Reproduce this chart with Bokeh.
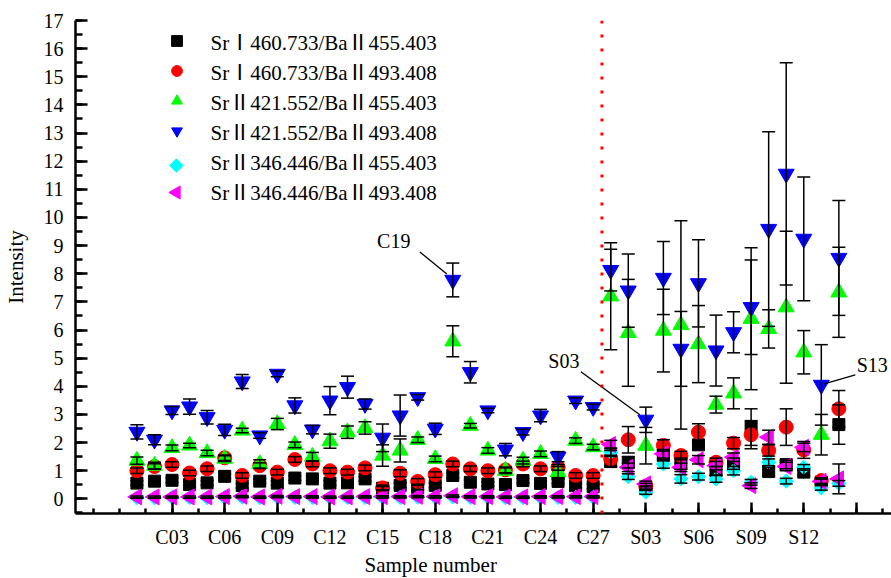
import math
from bokeh.plotting import figure
from bokeh.models import (ColumnDataSource, Whisker, TeeHead, FixedTicker, SingleIntervalTicker,
                          Span, Label, Legend, LegendItem, Range1d, Title)
from bokeh.embed import file_html
from bokeh.resources import INLINE

# ---------------- data ----------------
samples = ["C%02d" % i for i in range(1, 28)] + ["S%02d" % i for i in range(1, 15)]

series_names = [
    "SrⅠ460.733/BaⅡ455.403",
    "SrⅠ460.733/BaⅡ493.408",
    "SrⅡ421.552/BaⅡ455.403",
    "SrⅡ421.552/BaⅡ493.408",
    "SrⅡ346.446/BaⅡ455.403",
    "SrⅡ346.446/BaⅡ493.408",
]

sr1_ba455 = [0.56, 0.63, 0.66, 0.51, 0.57, 0.80, 0.47, 0.63, 0.56, 0.74, 0.71, 0.56, 0.57, 0.71,
             0.38, 0.48, 0.40, 0.48, 0.83, 0.59, 0.53, 0.51, 0.65, 0.55, 0.62, 0.47, 0.44,
             1.35, 1.30, 0.38, 1.55, 1.25, 1.92, 1.00, 1.25, 2.55, 0.97, 1.22, 0.95, 0.60, 2.64]
sr1_ba455_err = [0.08, 0.08, 0.08, 0.08, 0.08, 0.08, 0.08, 0.08, 0.08, 0.08, 0.08, 0.08, 0.08, 0.08,
                 0.06, 0.08, 0.08, 0.08, 0.08, 0.08, 0.08, 0.08, 0.08, 0.08, 0.08, 0.08, 0.08,
                 0.20, 0.20, 0.08, 0.20, 0.20, 0.15, 0.15, 0.20, 0.65, 0.15, 0.15, 0.12, 0.10, 0.70]

sr1_ba493 = [1.00, 1.15, 1.22, 0.92, 1.07, 1.46, 0.83, 1.18, 0.95, 1.40, 1.24, 1.00, 0.95, 1.10,
             0.39, 0.91, 0.62, 0.86, 1.24, 1.07, 1.00, 1.03, 1.24, 1.07, 1.12, 0.83, 0.83,
             1.42, 2.10, 0.45, 1.90, 1.54, 2.37, 1.30, 1.98, 2.28, 1.72, 2.55, 1.74, 0.65, 3.20]
sr1_ba493_err = [0.10, 0.10, 0.10, 0.10, 0.10, 0.10, 0.10, 0.10, 0.10, 0.10, 0.10, 0.10, 0.10, 0.10,
                 0.10, 0.12, 0.10, 0.10, 0.10, 0.10, 0.10, 0.10, 0.10, 0.10, 0.10, 0.10, 0.10,
                 0.30, 0.47, 0.10, 0.20, 0.15, 0.30, 0.15, 0.20, 0.50, 0.20, 0.65, 0.30, 0.10, 0.65]

sr2_421_ba455 = [1.36, 1.18, 1.81, 1.90, 1.63, 1.43, 2.43, 1.24, 2.66, 1.92, 1.50, 2.05, 2.37, 2.52,
                 1.54, 1.72, 2.10, 1.42, 5.60, 2.60, 1.72, 1.00, 1.36, 1.60, 0.95, 2.07, 1.84,
                 7.20, 5.90, 1.89, 5.98, 6.18, 5.50, 3.35, 3.75, 6.40, 6.04, 6.81, 5.21, 2.28, 7.34]
sr2_421_ba455_err = [0.13, 0.12, 0.10, 0.08, 0.10, 0.10, 0.08, 0.15, 0.20, 0.10, 0.15, 0.25, 0.22, 0.22,
                     0.38, 0.41, 0.10, 0.10, 0.55, 0.08, 0.10, 0.10, 0.12, 0.10, 0.20, 0.10, 0.10,
                     1.90, 1.90, 0.65, 1.47, 3.70, 1.37, 0.30, 0.55, 2.52, 0.68, 2.70, 0.77, 0.72, 1.60]

sr2_421_ba493 = [2.38, 2.10, 3.14, 3.28, 2.90, 2.45, 4.17, 2.25, 4.44, 3.32, 2.46, 3.49, 3.97, 3.37,
                 2.17, 2.96, 3.61, 2.49, 7.78, 4.50, 3.14, 1.75, 2.37, 2.96, 1.50, 3.49, 3.26,
                 8.13, 7.40, 2.81, 7.85, 5.33, 7.66, 5.27, 5.92, 6.81, 9.59, 11.55, 9.24, 4.05, 8.56]
sr2_421_ba493_err = [0.25, 0.18, 0.14, 0.27, 0.24, 0.20, 0.25, 0.10, 0.10, 0.27, 0.15, 0.50, 0.39, 0.18,
                     0.49, 0.73, 0.10, 0.20, 0.60, 0.38, 0.08, 0.22, 0.10, 0.22, 0.18, 0.10, 0.10,
                     0.74, 1.30, 0.45, 1.30, 1.33, 1.55, 1.26, 0.73, 1.68, 3.46, 3.95, 2.20, 1.43, 2.04]

sr2_346_ba455 = [0.04, 0.04, 0.05, 0.04, 0.04, 0.05, 0.06, 0.04, 0.06, 0.05, 0.05, 0.04, 0.04, 0.05,
                 0.05, 0.05, 0.06, 0.05, 0.07, 0.05, 0.05, 0.04, 0.04, 0.05, 0.05, 0.05, 0.05,
                 1.66, 0.79, 0.24, 1.24, 0.71, 0.79, 0.71, 1.00, 0.59, 1.30, 0.63, 1.12, 0.39, 0.55]
sr2_346_ba455_err = [0.02] * 27 + [0.15, 0.10, 0.08, 0.15, 0.15, 0.12, 0.12, 0.15, 0.10, 0.12, 0.10, 0.10, 0.08, 0.10]

sr2_346_ba493 = [0.07, 0.07, 0.07, 0.07, 0.07, 0.08, 0.09, 0.07, 0.09, 0.08, 0.08, 0.07, 0.07, 0.08,
                 0.08, 0.08, 0.09, 0.08, 0.11, 0.08, 0.08, 0.07, 0.07, 0.08, 0.08, 0.08, 0.08,
                 1.93, 1.12, 0.53, 1.60, 1.12, 1.39, 1.18, 1.48, 0.47, 2.19, 1.15, 1.83, 0.62, 0.71]
sr2_346_ba493_err = [0.03] * 27 + [0.15, 0.15, 0.10, 0.15, 0.15, 0.15, 0.15, 0.15, 0.10, 0.25, 0.15, 0.15, 0.10, 0.53]

# ---------------- layout constants ----------------
W, H = 891, 578
BL, BR, BT, BB = 74, 0, 20, 65
X0, X1 = -2.5, 44.0
Y0, Y1 = -0.52, 17.0
UX = (X1 - X0) / (W - BL - BR)
UY = (Y1 - Y0) / (H - BT - BB)
FONT = "Liberation Serif"

# legend geometry (screen px)
LEG_X, LEG_TOP, ROW = 87.5, 23.5, 27

pos = list(range(1, len(samples) + 1))

p = figure(width=W, height=H, output_backend="svg", toolbar_location=None,
           x_range=Range1d(X0, X1), y_range=Range1d(Y0, Y1),
           min_border_left=BL, min_border_right=BR, min_border_top=BT, min_border_bottom=BB)
p.outline_line_color = None
p.grid.visible = False
p.background_fill_color = "white"

for ax in (p.xaxis[0], p.yaxis[0]):
    ax.axis_line_width = 2.5
    ax.axis_line_color = "black"
    ax.major_tick_line_width = 2.5
    ax.minor_tick_line_width = 2.5
    ax.major_tick_line_color = "black"
    ax.minor_tick_line_color = "black"
    ax.major_tick_out = 0
    ax.minor_tick_out = 0
    ax.major_label_text_font = FONT
    ax.major_label_text_font_size = "20px"
    ax.major_label_text_color = "black"
    ax.major_label_standoff = 12
    ax.axis_label_text_font = FONT
    ax.axis_label_text_font_size = "21px"
    ax.axis_label_text_font_style = "normal"
    ax.axis_label_text_color = "black"

xa = p.xaxis[0]
major = list(range(3, 43, 3))
minor = [-1.5 + 1.5 * k for k in range(31)]
xa.ticker = FixedTicker(ticks=major, minor_ticks=minor)
xa.major_label_overrides = {t: (samples[t - 1] if t <= len(samples) else "") for t in major}
xa.major_tick_in = 11
xa.minor_tick_in = 5

ya = p.yaxis[0]
ya.ticker = SingleIntervalTicker(interval=1, num_minor_ticks=2)
ya.major_tick_in = 12
ya.minor_tick_in = 7
ya.axis_label = "Intensity"
ya.axis_label_standoff = 13

# x-axis title, left-shifted as in the source figure
p.add_layout(Title(text="Sample number", align="left", offset=289, text_font=FONT,
                   text_font_size="21px", text_font_style="normal", text_color="black",
                   standoff=1), "below")

p.add_layout(Span(location=27.5, dimension="height", line_color="#FF0000",
                  line_width=3, line_dash="3 11"))

styles = [
    (sr1_ba455, sr1_ba455_err, "square", 12, 0, "#000000", 0.0),
    (sr1_ba493, sr1_ba493_err, "circle", 14, 0, "#FF0000", 0.0),
    (sr2_421_ba455, sr2_421_ba455_err, "triangle", 16, 0, "#00FF00", 0.0),
    (sr2_421_ba493, sr2_421_ba493_err, "inverted_triangle", 16, 0, "#0000FF", 0.0),
    (sr2_346_ba455, sr2_346_ba455_err, "square", 10, 9.5, "#00FFFF", math.pi / 4),
    (sr2_346_ba493, sr2_346_ba493_err, "triangle", 16, 13, "#FF00FF", math.pi / 2),
]

items = []
for k, (name, (vals, errs, marker, size, leg_size, color, ang)) in enumerate(zip(series_names, styles)):
    src = ColumnDataSource(dict(x=pos, y=vals,
                                upper=[v + e for v, e in zip(vals, errs)],
                                lower=[v - e for v, e in zip(vals, errs)]))
    r = p.scatter(x="x", y="y", source=src, marker=marker, size=size, angle=ang,
                  fill_color=color, line_color=color, line_width=1)
    if ang == 0.0:
        items.append(LegendItem(label=name, renderers=[r]))
    else:
        # legends ignore marker angle: use an invisible stand-in and draw the rotated swatch
        dummy = p.scatter(x=[], y=[], marker=marker, size=size, fill_alpha=0, line_alpha=0)
        items.append(LegendItem(label=name, renderers=[dummy]))
        sx = BL + LEG_X + ROW / 2
        sy = BT + LEG_TOP + k * ROW + ROW / 2
        p.scatter(x=[X0 + (sx - BL) * UX], y=[Y1 - (sy - BT) * UY], marker=marker, size=leg_size,
                  angle=ang, fill_color=color, line_color=color)
    p.add_layout(Whisker(source=src, base="x", upper="upper", lower="lower", dimension="height",
                         line_color="black", line_width=1.5, level="annotation",
                         upper_head=TeeHead(size=13, line_color="black", line_width=1.5),
                         lower_head=TeeHead(size=13, line_color="black", line_width=1.5)))

legend_bottom = LEG_TOP + 6 * ROW
legend = Legend(items=items, location=(LEG_X, (H - BT - BB) - legend_bottom), orientation="vertical",
                glyph_width=ROW, glyph_height=ROW, label_height=21, label_standoff=21,
                spacing=0, padding=0, margin=0, border_line_color=None,
                background_fill_alpha=0,
                label_text_font="'Liberation Serif', 'Noto Sans CJK SC'",
                label_text_font_size="21px", label_text_color="black")
p.add_layout(legend)

def callout(idx, vals, text_dx, text_dy, l0, l1):
    x, y = pos[idx], vals[idx]
    p.add_layout(Label(x=x, y=y, x_offset=text_dx, y_offset=text_dy, text=samples[idx],
                       text_align="center", text_baseline="middle",
                       text_font=FONT, text_font_size="20px", text_color="black"))
    p.segment(x0=[x + l0[0] * UX], y0=[y + l0[1] * UY], x1=[x + l1[0] * UX], y1=[y + l1[1] * UY],
              line_color="black", line_width=1.3)

callout(samples.index("C19"), sr2_421_ba493, -59, 39, (-33, 28), (-6, 6))
callout(samples.index("S03"), sr2_421_ba493, -82, 59, (-65, 48), (-6, 5))
callout(samples.index("S13"), sr2_421_ba493, 51, 20, (3, 1), (34, 10))

open("out.html", "w").write(file_html(p, INLINE))
